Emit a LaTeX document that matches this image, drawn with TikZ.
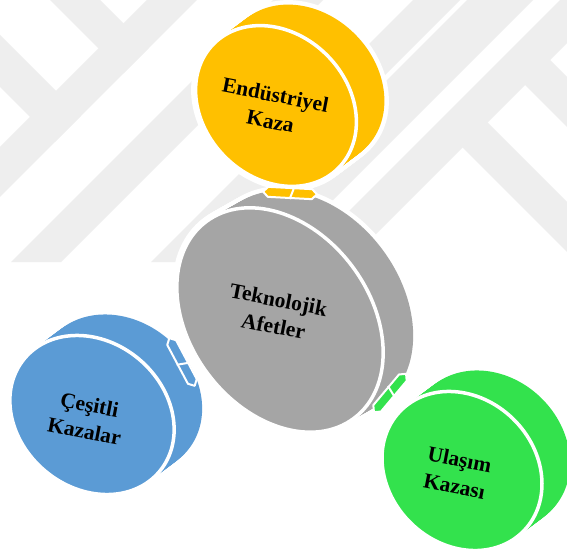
\documentclass[tikz,border=0pt]{standalone}
\usepackage{fontspec}
\setmainfont{Liberation Serif}
\definecolor{cOrange}{RGB}{255,192,0}
\definecolor{cGray}{RGB}{165,165,165}
\definecolor{cBlue}{RGB}{91,155,213}
\definecolor{cGreen}{RGB}{51,226,77}
\definecolor{cMark}{RGB}{238,238,238}
\newcommand\mycyl[8]{%
  \foreach \k in {0,...,20}{%
    \pgfmathsetmacro\myX{#1+\k/20*(#6)}%
    \pgfmathsetmacro\myY{#2+\k/20*(#7)}%
    \draw[white,line width=9pt,rotate around={-#5:(\myX,\myY)}] (\myX,\myY) ellipse [x radius=#3pt,y radius=#4pt];
  }%
  \foreach \k in {0,...,20}{%
    \pgfmathsetmacro\myX{#1+\k/20*(#6)}%
    \pgfmathsetmacro\myY{#2+\k/20*(#7)}%
    \fill[#8,rotate around={-#5:(\myX,\myY)}] (\myX,\myY) ellipse [x radius=#3pt,y radius=#4pt];
  }%
  \fill[#8,rotate around={-#5:(#1,#2)}] (#1,#2) ellipse [x radius=#3pt,y radius=#4pt];
  \draw[white,line width=3.5pt,rotate around={-#5:(#1,#2)}] (#1,#2) ellipse [x radius=#3pt,y radius=#4pt];
}
\newcommand\myconn[5]{%
  \begin{scope}[shift={(#1,#2)},rotate=#3]
    \fill[#4,draw=white,line width=2pt,line join=round] (-#5,0)--(-#5+5,-5)--(#5-5,-5)--(#5,0)--(#5-5,5)--(-#5+5,5)--cycle;
    \draw[white,line width=2pt] (4,-6)--(0,6);
  \end{scope}}
\tikzset{lbl/.style={font=\bfseries\fontsize{21.5}{27}\selectfont,align=center,text=black,rotate=-11,inner sep=0pt}}
\begin{document}
\begin{tikzpicture}[x=1pt,y=-1pt]
\useasboundingbox (0,0) rectangle (567,553);
\fill[white] (0,0) rectangle (567,553);
% watermark
\begin{scope}
\clip (0,0) rectangle (567,262);
\fill[cMark] (50,0)--(100,0)--(148.5,48.5)--(123.5,73.5)--cycle;
\fill[cMark] (0,35)--(81,116)--(55,142)--(0,87)--cycle;
\fill[cMark] (147,0)--(197,0)--(0,197)--(0,147)--cycle;
\fill[cMark] (273,0)--(323,0)--(61,262)--(11,262)--cycle;
\fill[cMark] (413,0)--(460,0)--(198,262)--(151,262)--cycle;
\fill[cMark] (467,0)--(533,0)--(271,262)--(205,262)--cycle;
\fill[cMark] (560,0)--(610,0)--(348,262)--(298,262)--cycle;
\fill[cMark] (472.5,107.5)--(627,262)--(577,262)--(447.5,132.5)--cycle;
\fill[cMark] (545,55)--(610,120)--(585,145)--(520,80)--cycle;
\end{scope}
% cylinders
\mycyl{280}{320}{123}{90}{53}{30}{-17}{cGray}
\mycyl{276}{106}{88}{72}{45}{28}{-21}{cOrange}
\mycyl{92}{415}{88}{73}{40}{28}{-21}{cBlue}
\mycyl{462}{471}{86}{73}{44}{28}{-21}{cGreen}
% connectors
\myconn{290}{193}{-3}{cOrange}{27}
\myconn{182}{362}{-62}{cBlue}{27}
\myconn{390}{393}{50}{cGreen}{25}
% labels
\node[lbl] (tOrange) at (273,108) {Endüstriyel\\Kaza};
\node[lbl] (tGray) at (276,313) {Teknolojik\\Afetler};
\node[lbl] (tBlue) at (87,418) {Çeşitli\\Kazalar};
\node[lbl] (tGreen) at (457,473) {Ulaşım\\Kazası};
\end{tikzpicture}
\end{document}
